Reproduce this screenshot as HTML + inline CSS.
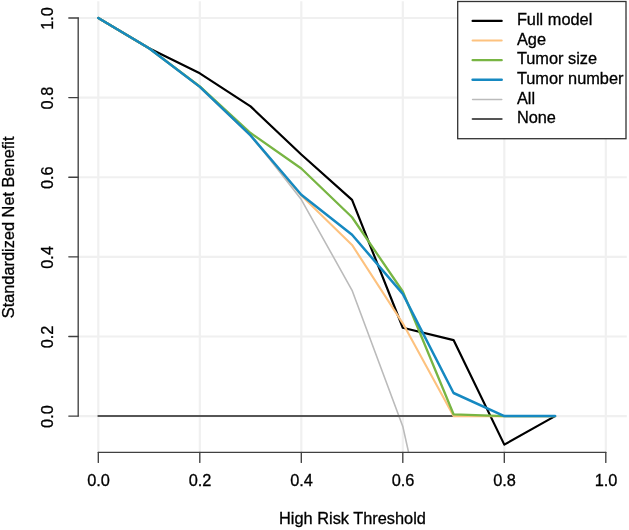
<!DOCTYPE html><html><head><meta charset="utf-8"><style>html,body{margin:0;padding:0;background:#fff;}svg{display:block;}#w{will-change:transform;width:629px;height:530px;}text{font-family:"Liberation Sans",sans-serif;font-size:16.35px;fill:#000;stroke:#000;stroke-width:0.3px;}</style></head><body>
<div id="w">
<svg width="629" height="530" viewBox="0 0 629 530">
<rect width="629" height="530" fill="#fff"/>
<defs><clipPath id="pc"><rect x="78.2" y="1.3" width="548.5999999999999" height="451.09999999999997"/></clipPath></defs>
<g stroke="#f0f0f0" stroke-width="2.2"><line x1="98.30" y1="1.3" x2="98.30" y2="452.4"/><line x1="78.2" y1="416.10" x2="626.8" y2="416.10"/><line x1="199.80" y1="1.3" x2="199.80" y2="452.4"/><line x1="78.2" y1="336.48" x2="626.8" y2="336.48"/><line x1="301.30" y1="1.3" x2="301.30" y2="452.4"/><line x1="78.2" y1="256.86" x2="626.8" y2="256.86"/><line x1="402.80" y1="1.3" x2="402.80" y2="452.4"/><line x1="78.2" y1="177.24" x2="626.8" y2="177.24"/><line x1="504.30" y1="1.3" x2="504.30" y2="452.4"/><line x1="78.2" y1="97.62" x2="626.8" y2="97.62"/><line x1="605.80" y1="1.3" x2="605.80" y2="452.4"/><line x1="78.2" y1="18.00" x2="626.8" y2="18.00"/></g>
<g clip-path="url(#pc)" fill="none" stroke-linejoin="round" stroke-linecap="round">
<polyline points="98.30,18.00 149.05,48.26 199.80,86.08 250.55,134.70 301.30,199.53 352.05,290.30 402.80,426.45 453.55,653.37" stroke="#bbbbbb" stroke-width="1.6"/>
<polyline points="98.30,416.10 555.05,416.10" stroke="#555555" stroke-width="2.0"/>
<polyline points="98.30,18.00 149.05,48.26 199.80,73.34 250.55,106.38 301.30,154.55 352.05,199.93 402.80,327.72 453.55,340.06 504.30,444.64 555.05,416.10" stroke="#000000" stroke-width="2.2"/>
<polyline points="98.30,18.00 149.05,48.26 199.80,86.87 250.55,135.44 301.30,195.55 352.05,244.92 402.80,323.34 453.55,416.10 504.30,416.10 555.05,416.10" stroke="#fdc27f" stroke-width="2.1"/>
<polyline points="98.30,18.00 149.05,48.26 199.80,86.47 250.55,133.05 301.30,168.48 352.05,217.25 402.80,291.49 453.55,414.31 504.30,416.10 555.05,416.10" stroke="#78b543" stroke-width="2.3"/>
<polyline points="98.30,18.00 149.05,48.26 199.80,86.87 250.55,135.44 301.30,194.76 352.05,234.69 402.80,293.88 453.55,393.01 504.30,416.10 555.05,416.10" stroke="#1689c1" stroke-width="2.5"/>
</g>
<g stroke="#404040" stroke-width="1.35" stroke-linecap="round"><line x1="78.2" y1="416.10" x2="78.2" y2="18.00"/><line x1="68.8" y1="416.10" x2="78.2" y2="416.10"/><line x1="68.8" y1="336.48" x2="78.2" y2="336.48"/><line x1="68.8" y1="256.86" x2="78.2" y2="256.86"/><line x1="68.8" y1="177.24" x2="78.2" y2="177.24"/><line x1="68.8" y1="97.62" x2="78.2" y2="97.62"/><line x1="68.8" y1="18.00" x2="78.2" y2="18.00"/><line x1="98.30" y1="452.4" x2="605.80" y2="452.4"/><line x1="98.30" y1="452.4" x2="98.30" y2="462.4"/><line x1="199.80" y1="452.4" x2="199.80" y2="462.4"/><line x1="301.30" y1="452.4" x2="301.30" y2="462.4"/><line x1="402.80" y1="452.4" x2="402.80" y2="462.4"/><line x1="504.30" y1="452.4" x2="504.30" y2="462.4"/><line x1="605.80" y1="452.4" x2="605.80" y2="462.4"/></g>
<text x="98.60" y="486.1" text-anchor="middle">0.0</text>
<text transform="translate(53.2,416.60) rotate(-90)" text-anchor="middle">0.0</text>
<text x="200.10" y="486.1" text-anchor="middle">0.2</text>
<text transform="translate(53.2,336.98) rotate(-90)" text-anchor="middle">0.2</text>
<text x="301.60" y="486.1" text-anchor="middle">0.4</text>
<text transform="translate(53.2,257.36) rotate(-90)" text-anchor="middle">0.4</text>
<text x="403.10" y="486.1" text-anchor="middle">0.6</text>
<text transform="translate(53.2,177.74) rotate(-90)" text-anchor="middle">0.6</text>
<text x="504.60" y="486.1" text-anchor="middle">0.8</text>
<text transform="translate(53.2,98.12) rotate(-90)" text-anchor="middle">0.8</text>
<text x="606.10" y="486.1" text-anchor="middle">1.0</text>
<text transform="translate(53.2,18.50) rotate(-90)" text-anchor="middle">1.0</text>
<text x="352.5" y="523.8" text-anchor="middle">High Risk Threshold</text>
<text transform="translate(14.2,227.4) rotate(-90)" text-anchor="middle">Standardized Net Benefit</text>
<rect x="457.7" y="1.5" width="168.3" height="137.2" fill="#fff" stroke="#333" stroke-width="1.3"/>
<line x1="472.6" y1="20.95" x2="501.7" y2="20.95" stroke="#000000" stroke-width="2.2" stroke-linecap="round"/>
<text x="516.9" y="25.15">Full model</text>
<line x1="472.6" y1="40.57" x2="501.7" y2="40.57" stroke="#fdc27f" stroke-width="2.1" stroke-linecap="round"/>
<text x="516.9" y="44.77">Age</text>
<line x1="472.6" y1="60.19" x2="501.7" y2="60.19" stroke="#78b543" stroke-width="2.3" stroke-linecap="round"/>
<text x="516.9" y="64.39">Tumor size</text>
<line x1="472.6" y1="79.81" x2="501.7" y2="79.81" stroke="#1689c1" stroke-width="2.5" stroke-linecap="round"/>
<text x="516.9" y="84.01">Tumor number</text>
<line x1="472.6" y1="99.43" x2="501.7" y2="99.43" stroke="#bbbbbb" stroke-width="1.6" stroke-linecap="round"/>
<text x="516.9" y="103.63">All</text>
<line x1="472.6" y1="119.05" x2="501.7" y2="119.05" stroke="#555555" stroke-width="2.0" stroke-linecap="round"/>
<text x="516.9" y="123.25">None</text>
</svg></div></body></html>
